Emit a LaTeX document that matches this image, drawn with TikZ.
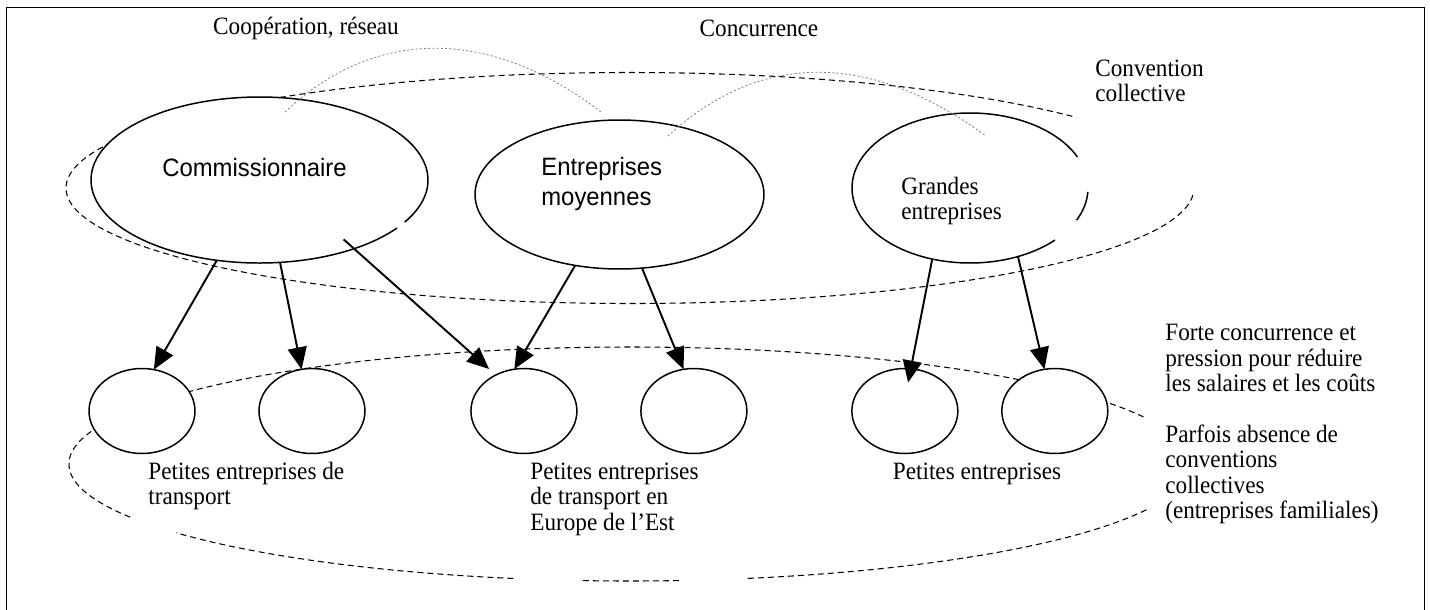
\documentclass[tikz,border=0pt]{standalone}
\usepackage{fontspec}
\setmainfont{Liberation Serif}[FakeStretch=0.93]
\setsansfont{Liberation Sans}[FakeStretch=0.95]
\usetikzlibrary{positioning,arrows.meta,shapes.geometric}
\newcommand{\txtsize}{\fontsize{14.2}{14.5}\selectfont}
\newcommand{\firmsize}{\sffamily\fontsize{14.3}{17.6}\selectfont}

\begin{document}
\begin{tikzpicture}[x=0.02cm, y=-0.02cm,
    firm/.style={ellipse, draw, line width=0.85pt, fill=white, inner sep=0pt, outer sep=0pt},
    petite/.style={ellipse, draw, line width=0.85pt, fill=white, inner sep=0pt, outer sep=0pt,
        minimum width=2.12cm, minimum height=1.7cm},
    txt/.style={font=\txtsize, inner sep=0pt, align=left},
    grp/.style={dash pattern=on 3.4pt off 2.3pt, line width=0.6pt},
    coop/.style={gray, dash pattern=on 1.2pt off 1.2pt, line width=0.45pt},
    arr/.style={-{Triangle[length=0.44cm,width=0.38cm]}, line width=1.1pt}]
	\useasboundingbox (0,0) rectangle (1430,609);
	\draw[line width=0.5pt] (6,7) rectangle (1424,625);
	% groupes en pointilles
	\coordinate (conv) at (630,188);
	\coordinate (pet) at (630,464);
	\draw[grp] ([shift={(3.5:564 and 115.5)}]conv) arc[start angle=3.5, end angle=322.3, x radius=564, y radius=115.5];
	\draw[grp] ([shift={(153:561 and 117)}]pet) arc[start angle=153, end angle=337, x radius=561, y radius=117];
	\draw[grp] ([shift={(23:561 and 117)}]pet) arc[start angle=23, end angle=78, x radius=561, y radius=117];
	\draw[grp] ([shift={(85:561 and 117)}]pet) arc[start angle=85, end angle=95, x radius=561, y radius=117];
	\draw[grp] ([shift={(102:561 and 117)}]pet) arc[start angle=102, end angle=144, x radius=561, y radius=117];
	% entreprises
	\node[firm, draw=none, minimum width=6.74cm, minimum height=3.32cm] (comm) at (259.5,180) {};
	\draw[line width=0.85pt] ([shift={(35.3:168.5 and 83)}]comm.center) arc[start angle=35.3, end angle=390.5, x radius=168.5, y radius=83];
	\node[firm, minimum width=5.78cm, minimum height=2.98cm] (moy) at (619.5,194.5) {};
	\node[firm, draw=none, minimum width=4.72cm, minimum height=3cm] (grand) at (970,188) {};
	\draw[line width=0.85pt] ([shift={(44:118 and 75)}]grand.center) arc[start angle=44, end angle=335.5, x radius=118, y radius=75];
	\draw[line width=0.85pt] ([shift={(3:118 and 75)}]grand.center) arc[start angle=3, end angle=25.4, x radius=118, y radius=75];
	\node[font=\firmsize, inner sep=0pt] (comm-t) at (254.5,168) {Commissionnaire};
	\node[font=\firmsize, inner sep=0pt, align=left, anchor=west] (moy-t) at (541,184) {Entreprises\\moyennes};
	\node[txt, anchor=west] (grand-t) at (901,201) {Grandes\\entreprises};
	% petites entreprises
	\node[petite] (c1) at (142,411) {};
	\node[petite, right=1.28cm of c1] (c2) {};
	\node[petite, right=2.12cm of c2] (c3) {};
	\node[petite, right=1.28cm of c3] (c4) {};
	\node[petite, right=2.1cm of c4] (c5) {};
	\node[petite, right=0.88cm of c5] (c6) {};
	% liens
	\coordinate (coop-a) at (285,112);
	\coordinate (coop-b) at (601,112);
	\coordinate (conc-a) at (668,136);
	\coordinate (conc-b) at (986,136);
	\draw[coop] (coop-a) .. controls (375,27) and (490,27) .. (coop-b);
	\draw[coop] (conc-a) .. controls (760,51) and (870,51) .. (conc-b);
	\draw[arr] (comm.242) -- (c1.74);
	\draw[arr] (comm.284) -- (c2.104);
	\draw[arr, shorten <=-0.28cm, shorten >=0.18cm] (comm.324) -- (c3.128);
	\draw[arr] (moy.238) -- (c3.103);
	\draw[arr] (moy.287) -- (c4.104);
	\draw[arr, shorten >=-0.28cm] (grand.242) -- (c5.82);
	\draw[arr] (grand.305) -- (c6.104);
	% textes
	\node[txt] (coop-t) at (306,28) {Coopération, réseau};
	\node[txt] (conc-t) at (759,28) {Concurrence};
	\node[txt, anchor=west] (conv-t) at (1095,81) {Convention\\collective};
	\node[txt, anchor=west] (forte-t) at (1165,358) {Forte concurrence et\\pression pour réduire\\les salaires et les coûts};
	\node[txt, anchor=west] (parf-t) at (1165,474.5) {Parfois absence de\\conventions\\collectives\\(entreprises familiales)};
	\node[txt, anchor=west] (pet1-t) at (148,486) {Petites entreprises de\\transport};
	\node[txt, anchor=west] (pet2-t) at (530,499) {Petites entreprises\\de transport en\\Europe de l’Est};
	\node[txt] (pet3-t) at (977,474) {Petites entreprises};
\end{tikzpicture}
\end{document}
